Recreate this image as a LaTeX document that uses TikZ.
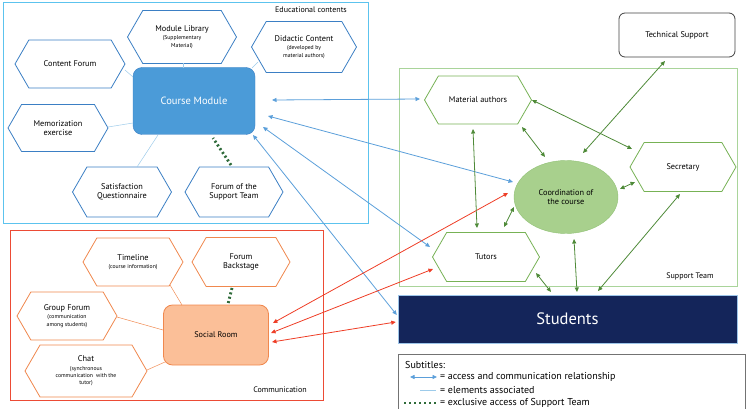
\documentclass[tikz,border=0pt]{standalone}
\usepackage{fontspec}
\setmainfont{PT Sans}
\usepackage{tikz}
\usetikzlibrary{positioning,calc,shapes.symbols,shapes.geometric,arrows.meta}

\definecolor{eduframe}{HTML}{5CC3EE}
\definecolor{eduline}{HTML}{3B7FC4}
\definecolor{edufill}{HTML}{4B9BD8}
\definecolor{assoc}{HTML}{9DCBEA}
\definecolor{commblue}{HTML}{5B9FDA}
\definecolor{comframe}{HTML}{EC4B35}
\definecolor{comline}{HTML}{F0884E}
\definecolor{comfill}{HTML}{FBBF98}
\definecolor{commred}{HTML}{EE3D26}
\definecolor{supframe}{HTML}{A9D49A}
\definecolor{supline}{HTML}{77B255}
\definecolor{supfill}{HTML}{A8D08D}
\definecolor{suparrow}{HTML}{4E8A38}
\definecolor{dotgreen}{HTML}{2F6B3A}
\definecolor{navy}{HTML}{14255A}

\tikzset{
  hexa/.style={signal, signal to=west and east, signal pointer angle=120,
    draw=#1, line width=0.8pt, fill=white, align=center, inner sep=1pt,
    font=\fontsize{8.3}{9.3}\selectfont},
  hexa/.default=eduline,
  frame/.style={draw=#1, line width=0.9pt},
  assocline/.style={draw=#1, line width=0.5pt},
  commarrow/.style={<->, >={Triangle[length=4.5pt,width=4pt]}, draw=#1, line width=0.8pt},
  exclusive/.style={draw=dotgreen, line width=2.8pt, dash pattern=on 2pt off 2.5pt},
  framelabel/.style={font=\fontsize{8}{9}\selectfont},
  legendtext/.style={anchor=west, inner sep=0pt, font=\fontsize{10}{12}\selectfont}
}
\newcommand{\sub}[1]{{\fontsize{5.7}{6.5}\selectfont #1}}

\begin{document}
\begin{tikzpicture}[x=1pt, y=-1pt]
\useasboundingbox (0,0) rectangle (748,409);

% Rahmen
\draw[frame=eduframe] (3,2) rectangle (368,223);
\draw[frame=comframe] (10,230) rectangle (323,400);
\draw[frame=supframe] (399,68) rectangle (737,286);
\node[framelabel] (edulabel) at (311,10) {Educational contents};
\node[framelabel] (comlabel) at (280,390) {Communication};
\node[framelabel] (suplabel) at (690,276) {Support Team};

% Educational contents
\node[draw=eduline, fill=edufill, rounded corners=9pt, minimum width=122pt, minimum height=67pt,
  text=white, font=\fontsize{10.5}{12}\selectfont] (cm) at (194,101) {Course Module};
\node[hexa, minimum width=109pt, minimum height=53pt] (ml) at (182,37)
  {Module Library\\[-1pt]\sub{(Supplementary}\\[-2pt]\sub{Material)}};
\node[hexa, minimum width=105pt, minimum height=51pt] (dc) at (304,47)
  {Didactic Content\\[-1pt]\sub{(developed by}\\[-2pt]\sub{material authors)}};
\node[hexa, minimum width=110pt, minimum height=48pt] (cf) at (70,64) {Content Forum};
\node[hexa, minimum width=100pt, minimum height=47pt] (me) at (58,128) {Memorization\\exercise};
\node[hexa, minimum width=99pt, minimum height=50pt] (sq) at (122,192) {Satisfaction\\Questionnaire};
\node[hexa, minimum width=98pt, minimum height=50pt] (fs) at (234,192) {Forum of the\\Support Team};

\draw[assocline=assoc] ($(cf)+(55,6)$) -- ($(cm)+(-61,-24)$);
\draw[assocline=assoc] ($(ml)+(1,26)$) -- ($(cm)+(-11,-33)$);
\draw[assocline=assoc] ($(dc)+(-46,15)$) -- ($(cm)+(58,-33)$);
\draw[assocline=assoc] ($(me)+(50,-1)$) -- ($(cm)+(-61,22)$);
\draw[assocline=assoc] ($(sq)+(15,-25)$) -- ($(cm)+(-36,34)$);
\draw[exclusive] ($(fs)+(-3,-27)$) -- ($(cm)+(19,37)$);

% Communication
\node[draw=comline, fill=comfill, rounded corners=9pt, minimum width=105pt, minimum height=60pt,
  line width=0.8pt, font=\fontsize{8.2}{9.2}\selectfont] (sr) at (216,335) {Social Room};
\node[hexa=comline, minimum width=100pt, minimum height=48pt] (tl) at (133,262)
  {Timeline\\[-1pt]\sub{(course information)}};
\node[hexa=comline, minimum width=98pt, minimum height=49pt] (fb) at (241,262) {Forum\\Backstage};
\node[hexa=comline, minimum width=100pt, minimum height=48pt] (gf) at (67,316)
  {Group Forum\\[-1pt]\sub{(communication}\\[-2pt]\sub{among students)}};
\node[hexa=comline, minimum width=122pt, minimum height=52pt] (ch) at (86,371)
  {Chat\\[-1pt]\sub{(synchronous}\\[-2pt]\sub{communication\ \ with the}\\[-2pt]\sub{tutor)}};

\draw[assocline=comline] ($(tl)+(37,23)$) -- ($(sr)+(-34,-30)$);
\draw[assocline=comline] ($(gf)+(50,1)$) -- ($(sr)+(-53,-5)$);
\draw[assocline=comline] ($(ch)+(61,-1)$) -- ($(sr)+(-51,27)$);
\draw[exclusive] ($(fb)+(-9,26)$) -- ($(sr)+(12,-31)$);

% Support Team
\node[draw=black!75, rounded corners=6pt, minimum width=116pt, minimum height=44pt,
  line width=0.8pt, font=\fontsize{8.3}{9.3}\selectfont] (ts) at (677,35) {Technical Support};
\node[hexa=supline, minimum width=107pt, minimum height=48pt] (ma) at (478,100) {Material authors};
\node[hexa=supline, minimum width=106pt, minimum height=49pt] (se) at (683,167) {Secretary};
\node[ellipse, draw=supline!80, fill=supfill, minimum width=104pt, minimum height=73pt, align=center,
  font=\fontsize{8.3}{9.3}\selectfont] (co) at (566,197) {Coordination of\\the course};
\node[hexa=supline, minimum width=107pt, minimum height=49pt] (tu) at (486,257) {Tutors};

% Students
\node[draw=commblue!60, fill=navy, minimum width=339pt, minimum height=48pt, text=white,
  font=\fontsize{16.5}{18}\selectfont] (st) at (567.5,319) {Students};

% Pfeile
\draw[commarrow=commblue] ($(cm)+(78,-1)$) -- ($(ma)+(-58,-1)$);
\draw[commarrow=commblue] ($(cm)+(74,15)$) -- ($(co)+(-53,-15)$);
\draw[commarrow=commblue] ($(cm)+(69,26)$) -- ($(tu)+(-56,-10)$);
\draw[commarrow=commblue] ($(cm)+(59,34)$) -- ($(st.west)+(-1,-4)$);

\draw[commarrow=commred] ($(sr)+(57,-12)$) -- ($(co)+(-58,-4)$);
\draw[commarrow=commred] ($(sr)+(55,-2)$) -- ($(tu)+(-53,12)$);
\draw[commarrow=commred] ($(sr)+(56,7)$) -- ($(st.west)+(-2,3)$);

\draw[commarrow=suparrow] ($(ts)+(-12,26)$) -- ($(co)+(17,-44)$);
\draw[commarrow=suparrow] ($(ma)+(54,0)$) -- ($(se)+(-51,-18)$);
\draw[commarrow=suparrow] ($(ma)+(44,27)$) -- ($(co)+(-21,-40)$);
\draw[commarrow=suparrow] ($(ma)+(-5,29)$) -- ($(tu)+(-9,-29)$);
\draw[commarrow=suparrow] ($(co)+(54,-8)$) -- ($(se)+(-48,15)$);
\draw[commarrow=suparrow] ($(tu)+(18,-30)$) -- ($(co)+(-52,10)$);
\draw[commarrow=suparrow] ($(co)+(8,42)$) -- ($(st)+(9.5,-27)$);
\draw[commarrow=suparrow] ($(tu)+(50,16)$) -- ($(st)+(-16.5,-27)$);
\draw[commarrow=suparrow] ($(se)+(-3,27)$) -- ($(st)+(30.5,-28)$);

% Legende
\draw[draw=black!55, line width=0.8pt] (398,354) rectangle (745,412);
\node[legendtext] (subt) at (405,365) {Subtitles:};
\coordinate (la) at (410,377);
\coordinate (lb) at (437,377);
\draw[commarrow=commblue] (la) -- (lb);
\node[legendtext] (lta) at (440,377) {= access and communication relationship};
\coordinate (lc) at (420,390);
\coordinate (ld) at (436,390);
\draw[assocline=assoc] (lc) -- (ld);
\node[legendtext] (ltb) at (440,390) {= elements associated};
\coordinate (le) at (404,403);
\coordinate (lf) at (438,403);
\draw[exclusive, line width=2.2pt, dash pattern=on 2pt off 3pt] (le) -- (lf);
\node[legendtext] (ltc) at (440,403) {= exclusive access of Support Team};
\end{tikzpicture}
\end{document}
